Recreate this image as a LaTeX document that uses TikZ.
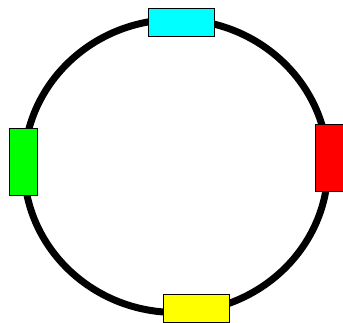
\documentclass[tikz,border=0pt]{standalone}
\begin{document}
\begin{tikzpicture}[x=0.02cm, y=-0.02cm]
  \useasboundingbox (0,0) rectangle (343,323);
  \coordinate (ring) at (176,166);
  \draw[line width=0.14cm] (ring) ellipse [x radius=152, y radius=146.5];
  \draw
    (181,22) node[fill={rgb,255:red,0;green,255;blue,255}, draw, line width=0.5pt, minimum width=1.32cm, minimum height=0.56cm, inner sep=0pt] (top){}
    (329.5,157.5) node[fill={rgb,255:red,255;green,0;blue,0}, draw, line width=0.5pt, minimum width=0.57cm, minimum height=1.34cm, inner sep=0pt] (right){}
    (196,308) node[fill={rgb,255:red,255;green,255;blue,0}, draw, line width=0.5pt, minimum width=1.32cm, minimum height=0.56cm, inner sep=0pt] (bottom){}
    (23,161.5) node[fill={rgb,255:red,0;green,255;blue,0}, draw, line width=0.5pt, minimum width=0.56cm, minimum height=1.34cm, inner sep=0pt] (left){};
\end{tikzpicture}
\end{document}
